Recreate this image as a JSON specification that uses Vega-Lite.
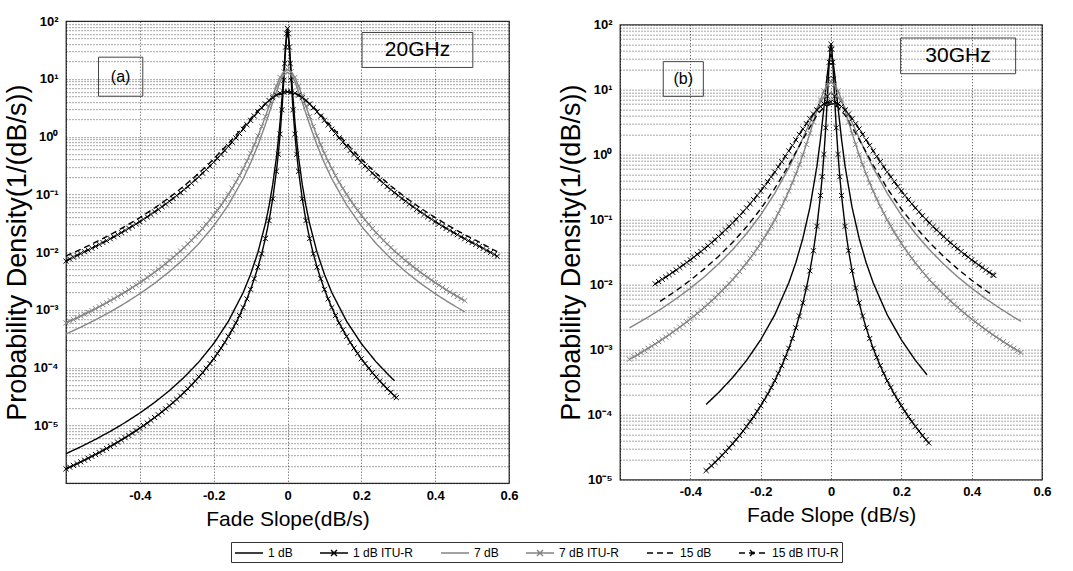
{
"$schema":"https://vega.github.io/schema/vega-lite/v6.json",
"padding":{"left":2,"top":14,"right":5,"bottom":3},
"background":"white",
"config":{"font":"Liberation Sans","view":{"stroke":"#333","strokeWidth":1.3},
 "axis":{"domain":false,"ticks":false,"tickSize":0,"grid":true,"gridColor":"#000","gridDash":[1,2],"gridWidth":1,"gridOpacity":0.7,
  "labelFont":"Liberation Sans","labelFontWeight":"bold","labelFontSize":13,"labelColor":"#000",
  "titleFont":"Liberation Sans","titleFontSize":21,"titleFontWeight":"normal","titleColor":"#000"}},
"datasets":{"curves":[
{"panel":"a","series":"1 dB","x":-0.6,"y":3.24e-6},{"panel":"a","series":"1 dB","x":-0.56,"y":4.27e-6},{"panel":"a","series":"1 dB","x":-0.52,"y":5.74e-6},{"panel":"a","series":"1 dB","x":-0.48,"y":7.91e-6},{"panel":"a","series":"1 dB","x":-0.44,"y":1.12e-5},{"panel":"a","series":"1 dB","x":-0.4,"y":1.64e-5},{"panel":"a","series":"1 dB","x":-0.36,"y":2.5e-5},{"panel":"a","series":"1 dB","x":-0.32,"y":4.0e-5},{"panel":"a","series":"1 dB","x":-0.28,"y":6.82e-5},{"panel":"a","series":"1 dB","x":-0.24,"y":1.26e-4},{"panel":"a","series":"1 dB","x":-0.2,"y":2.61e-4},{"panel":"a","series":"1 dB","x":-0.16,"y":6.37e-4},{"panel":"a","series":"1 dB","x":-0.12,"y":2.0e-3},{"panel":"a","series":"1 dB","x":-0.1,"y":4.14e-3},{"panel":"a","series":"1 dB","x":-0.08,"y":0.01},{"panel":"a","series":"1 dB","x":-0.06,"y":0.031},{"panel":"a","series":"1 dB","x":-0.05,"y":0.0632},{"panel":"a","series":"1 dB","x":-0.04,"y":0.149},{"panel":"a","series":"1 dB","x":-0.03,"y":0.439},{"panel":"a","series":"1 dB","x":-0.025,"y":0.848},{"panel":"a","series":"1 dB","x":-0.02,"y":1.83},{"panel":"a","series":"1 dB","x":-0.015,"y":4.56},{"panel":"a","series":"1 dB","x":-0.01,"y":13.2},{"panel":"a","series":"1 dB","x":-0.005,"y":39.1},{"panel":"a","series":"1 dB","x":0,"y":68},{"panel":"a","series":"1 dB","x":0.005,"y":39.1},{"panel":"a","series":"1 dB","x":0.01,"y":13.2},{"panel":"a","series":"1 dB","x":0.015,"y":4.56},{"panel":"a","series":"1 dB","x":0.02,"y":1.83},{"panel":"a","series":"1 dB","x":0.025,"y":0.848},{"panel":"a","series":"1 dB","x":0.03,"y":0.439},{"panel":"a","series":"1 dB","x":0.04,"y":0.149},{"panel":"a","series":"1 dB","x":0.05,"y":0.0632},{"panel":"a","series":"1 dB","x":0.06,"y":0.031},{"panel":"a","series":"1 dB","x":0.08,"y":0.01},{"panel":"a","series":"1 dB","x":0.1,"y":4.14e-3},{"panel":"a","series":"1 dB","x":0.12,"y":2.0e-3},{"panel":"a","series":"1 dB","x":0.16,"y":6.37e-4},{"panel":"a","series":"1 dB","x":0.2,"y":2.61e-4},{"panel":"a","series":"1 dB","x":0.24,"y":1.26e-4},{"panel":"a","series":"1 dB","x":0.28,"y":6.82e-5},{"panel":"a","series":"1 dB","x":0.29,"y":5.93e-5},
{"panel":"a","series":"1 dB ITU-R","x":-0.6,"y":1.77e-6},{"panel":"a","series":"1 dB ITU-R","x":-0.58,"y":2.03e-6},{"panel":"a","series":"1 dB ITU-R","x":-0.56,"y":2.34e-6},{"panel":"a","series":"1 dB ITU-R","x":-0.54,"y":2.7e-6},{"panel":"a","series":"1 dB ITU-R","x":-0.52,"y":3.14e-6},{"panel":"a","series":"1 dB ITU-R","x":-0.5,"y":3.68e-6},{"panel":"a","series":"1 dB ITU-R","x":-0.48,"y":4.33e-6},{"panel":"a","series":"1 dB ITU-R","x":-0.46,"y":5.13e-6},{"panel":"a","series":"1 dB ITU-R","x":-0.44,"y":6.13e-6},{"panel":"a","series":"1 dB ITU-R","x":-0.42,"y":7.38e-6},{"panel":"a","series":"1 dB ITU-R","x":-0.4,"y":8.97e-6},{"panel":"a","series":"1 dB ITU-R","x":-0.38,"y":1.1e-5},{"panel":"a","series":"1 dB ITU-R","x":-0.36,"y":1.37e-5},{"panel":"a","series":"1 dB ITU-R","x":-0.34,"y":1.72e-5},{"panel":"a","series":"1 dB ITU-R","x":-0.32,"y":2.19e-5},{"panel":"a","series":"1 dB ITU-R","x":-0.3,"y":2.83e-5},{"panel":"a","series":"1 dB ITU-R","x":-0.28,"y":3.73e-5},{"panel":"a","series":"1 dB ITU-R","x":-0.26,"y":5.02e-5},{"panel":"a","series":"1 dB ITU-R","x":-0.24,"y":6.91e-5},{"panel":"a","series":"1 dB ITU-R","x":-0.22,"y":9.79e-5},{"panel":"a","series":"1 dB ITU-R","x":-0.2,"y":1.43e-4},{"panel":"a","series":"1 dB ITU-R","x":-0.18,"y":2.18e-4},{"panel":"a","series":"1 dB ITU-R","x":-0.16,"y":3.49e-4},{"panel":"a","series":"1 dB ITU-R","x":-0.14,"y":5.95e-4},{"panel":"a","series":"1 dB ITU-R","x":-0.12,"y":1.1e-3},{"panel":"a","series":"1 dB ITU-R","x":-0.1,"y":2.27e-3},{"panel":"a","series":"1 dB ITU-R","x":-0.08,"y":5.52e-3},{"panel":"a","series":"1 dB ITU-R","x":-0.06,"y":0.0172},{"panel":"a","series":"1 dB ITU-R","x":-0.05,"y":0.0352},{"panel":"a","series":"1 dB ITU-R","x":-0.04,"y":0.0839},{"panel":"a","series":"1 dB ITU-R","x":-0.03,"y":0.252},{"panel":"a","series":"1 dB ITU-R","x":-0.025,"y":0.496},{"panel":"a","series":"1 dB ITU-R","x":-0.02,"y":1.11},{"panel":"a","series":"1 dB ITU-R","x":-0.015,"y":2.92},{"panel":"a","series":"1 dB ITU-R","x":-0.01,"y":9.52},{"panel":"a","series":"1 dB ITU-R","x":-0.0075,"y":18.5},{"panel":"a","series":"1 dB ITU-R","x":-0.005,"y":35.6},{"panel":"a","series":"1 dB ITU-R","x":-0.0025,"y":60.6},{"panel":"a","series":"1 dB ITU-R","x":0,"y":75},{"panel":"a","series":"1 dB ITU-R","x":0.0025,"y":60.6},{"panel":"a","series":"1 dB ITU-R","x":0.005,"y":35.6},{"panel":"a","series":"1 dB ITU-R","x":0.0075,"y":18.5},{"panel":"a","series":"1 dB ITU-R","x":0.01,"y":9.52},{"panel":"a","series":"1 dB ITU-R","x":0.015,"y":2.92},{"panel":"a","series":"1 dB ITU-R","x":0.02,"y":1.11},{"panel":"a","series":"1 dB ITU-R","x":0.025,"y":0.496},{"panel":"a","series":"1 dB ITU-R","x":0.03,"y":0.252},{"panel":"a","series":"1 dB ITU-R","x":0.04,"y":0.0839},{"panel":"a","series":"1 dB ITU-R","x":0.05,"y":0.0352},{"panel":"a","series":"1 dB ITU-R","x":0.06,"y":0.0172},{"panel":"a","series":"1 dB ITU-R","x":0.08,"y":5.52e-3},{"panel":"a","series":"1 dB ITU-R","x":0.1,"y":2.27e-3},{"panel":"a","series":"1 dB ITU-R","x":0.12,"y":1.1e-3},{"panel":"a","series":"1 dB ITU-R","x":0.14,"y":5.95e-4},{"panel":"a","series":"1 dB ITU-R","x":0.16,"y":3.49e-4},{"panel":"a","series":"1 dB ITU-R","x":0.18,"y":2.18e-4},{"panel":"a","series":"1 dB ITU-R","x":0.2,"y":1.43e-4},{"panel":"a","series":"1 dB ITU-R","x":0.22,"y":9.79e-5},{"panel":"a","series":"1 dB ITU-R","x":0.24,"y":6.91e-5},{"panel":"a","series":"1 dB ITU-R","x":0.26,"y":5.02e-5},{"panel":"a","series":"1 dB ITU-R","x":0.28,"y":3.73e-5},{"panel":"a","series":"1 dB ITU-R","x":0.295,"y":3.03e-5},
{"panel":"a","series":"1 dB ITU-R","x":-0.59,"y":1.896e-6},{"panel":"a","series":"1 dB ITU-R","x":-0.57,"y":2.176e-6},{"panel":"a","series":"1 dB ITU-R","x":-0.55,"y":2.51e-6},{"panel":"a","series":"1 dB ITU-R","x":-0.53,"y":2.911e-6},{"panel":"a","series":"1 dB ITU-R","x":-0.51,"y":3.395e-6},{"panel":"a","series":"1 dB ITU-R","x":-0.49,"y":3.984e-6},{"panel":"a","series":"1 dB ITU-R","x":-0.47,"y":4.707e-6},{"panel":"a","series":"1 dB ITU-R","x":-0.45,"y":5.601e-6},{"panel":"a","series":"1 dB ITU-R","x":-0.43,"y":6.718e-6},{"panel":"a","series":"1 dB ITU-R","x":-0.41,"y":8.127e-6},{"panel":"a","series":"1 dB ITU-R","x":-0.39,"y":9.926e-6},{"panel":"a","series":"1 dB ITU-R","x":-0.37,"y":1.225e-5},{"panel":"a","series":"1 dB ITU-R","x":-0.35,"y":1.53e-5},{"panel":"a","series":"1 dB ITU-R","x":-0.33,"y":1.936e-5},{"panel":"a","series":"1 dB ITU-R","x":-0.31,"y":2.485e-5},{"panel":"a","series":"1 dB ITU-R","x":-0.29,"y":3.245e-5},{"panel":"a","series":"1 dB ITU-R","x":-0.27,"y":4.318e-5},{"panel":"a","series":"1 dB ITU-R","x":-0.25,"y":5.872e-5},{"panel":"a","series":"1 dB ITU-R","x":-0.23,"y":8.195e-5},{"panel":"a","series":"1 dB ITU-R","x":-0.21,"y":1.179e-4},{"panel":"a","series":"1 dB ITU-R","x":-0.19,"y":1.758e-4},{"panel":"a","series":"1 dB ITU-R","x":-0.17,"y":2.741e-4},{"panel":"a","series":"1 dB ITU-R","x":-0.15,"y":4.517e-4},{"panel":"a","series":"1 dB ITU-R","x":-0.13,"y":7.993e-4},{"panel":"a","series":"1 dB ITU-R","x":-0.11,"y":1.555e-3},{"panel":"a","series":"1 dB ITU-R","x":-0.09,"y":3.455e-3},{"panel":"a","series":"1 dB ITU-R","x":-0.07,"y":9.358e-3},{"panel":"a","series":"1 dB ITU-R","x":0.07,"y":9.358e-3},{"panel":"a","series":"1 dB ITU-R","x":0.09,"y":3.455e-3},{"panel":"a","series":"1 dB ITU-R","x":0.11,"y":1.555e-3},{"panel":"a","series":"1 dB ITU-R","x":0.13,"y":7.993e-4},{"panel":"a","series":"1 dB ITU-R","x":0.15,"y":4.517e-4},{"panel":"a","series":"1 dB ITU-R","x":0.17,"y":2.741e-4},{"panel":"a","series":"1 dB ITU-R","x":0.19,"y":1.758e-4},{"panel":"a","series":"1 dB ITU-R","x":0.21,"y":1.179e-4},{"panel":"a","series":"1 dB ITU-R","x":0.23,"y":8.195e-5},{"panel":"a","series":"1 dB ITU-R","x":0.25,"y":5.872e-5},{"panel":"a","series":"1 dB ITU-R","x":0.27,"y":4.318e-5},{"panel":"a","series":"1 dB ITU-R","x":0.29,"y":3.245e-5},
{"panel":"a","series":"7 dB","x":-0.6,"y":3.82e-4},{"panel":"a","series":"7 dB","x":-0.56,"y":5.03e-4},{"panel":"a","series":"7 dB","x":-0.52,"y":6.75e-4},{"panel":"a","series":"7 dB","x":-0.48,"y":9.27e-4},{"panel":"a","series":"7 dB","x":-0.44,"y":1.31e-3},{"panel":"a","series":"7 dB","x":-0.4,"y":1.91e-3},{"panel":"a","series":"7 dB","x":-0.36,"y":2.89e-3},{"panel":"a","series":"7 dB","x":-0.32,"y":4.6e-3},{"panel":"a","series":"7 dB","x":-0.28,"y":7.75e-3},{"panel":"a","series":"7 dB","x":-0.24,"y":0.0141},{"panel":"a","series":"7 dB","x":-0.2,"y":0.0284},{"panel":"a","series":"7 dB","x":-0.16,"y":0.0659},{"panel":"a","series":"7 dB","x":-0.12,"y":0.187},{"panel":"a","series":"7 dB","x":-0.1,"y":0.35},{"panel":"a","series":"7 dB","x":-0.08,"y":0.716},{"panel":"a","series":"7 dB","x":-0.06,"y":1.62},{"panel":"a","series":"7 dB","x":-0.04,"y":3.95},{"panel":"a","series":"7 dB","x":-0.02,"y":8.99},{"panel":"a","series":"7 dB","x":-0.01,"y":11.8},{"panel":"a","series":"7 dB","x":0,"y":13},{"panel":"a","series":"7 dB","x":0.01,"y":11.8},{"panel":"a","series":"7 dB","x":0.02,"y":8.99},{"panel":"a","series":"7 dB","x":0.04,"y":3.95},{"panel":"a","series":"7 dB","x":0.06,"y":1.62},{"panel":"a","series":"7 dB","x":0.08,"y":0.716},{"panel":"a","series":"7 dB","x":0.1,"y":0.35},{"panel":"a","series":"7 dB","x":0.12,"y":0.187},{"panel":"a","series":"7 dB","x":0.16,"y":0.0659},{"panel":"a","series":"7 dB","x":0.2,"y":0.0284},{"panel":"a","series":"7 dB","x":0.24,"y":0.0141},{"panel":"a","series":"7 dB","x":0.28,"y":7.75e-3},{"panel":"a","series":"7 dB","x":0.32,"y":4.6e-3},{"panel":"a","series":"7 dB","x":0.36,"y":2.89e-3},{"panel":"a","series":"7 dB","x":0.4,"y":1.91e-3},{"panel":"a","series":"7 dB","x":0.44,"y":1.31e-3},{"panel":"a","series":"7 dB","x":0.48,"y":9.27e-4},
{"panel":"a","series":"7 dB ITU-R","x":-0.6,"y":5.96e-4},{"panel":"a","series":"7 dB ITU-R","x":-0.58,"y":6.82e-4},{"panel":"a","series":"7 dB ITU-R","x":-0.56,"y":7.84e-4},{"panel":"a","series":"7 dB ITU-R","x":-0.54,"y":9.06e-4},{"panel":"a","series":"7 dB ITU-R","x":-0.52,"y":1.05e-3},{"panel":"a","series":"7 dB ITU-R","x":-0.5,"y":1.23e-3},{"panel":"a","series":"7 dB ITU-R","x":-0.48,"y":1.45e-3},{"panel":"a","series":"7 dB ITU-R","x":-0.46,"y":1.71e-3},{"panel":"a","series":"7 dB ITU-R","x":-0.44,"y":2.04e-3},{"panel":"a","series":"7 dB ITU-R","x":-0.42,"y":2.45e-3},{"panel":"a","series":"7 dB ITU-R","x":-0.4,"y":2.97e-3},{"panel":"a","series":"7 dB ITU-R","x":-0.38,"y":3.64e-3},{"panel":"a","series":"7 dB ITU-R","x":-0.36,"y":4.5e-3},{"panel":"a","series":"7 dB ITU-R","x":-0.34,"y":5.63e-3},{"panel":"a","series":"7 dB ITU-R","x":-0.32,"y":7.14e-3},{"panel":"a","series":"7 dB ITU-R","x":-0.3,"y":9.19e-3},{"panel":"a","series":"7 dB ITU-R","x":-0.28,"y":0.012},{"panel":"a","series":"7 dB ITU-R","x":-0.26,"y":0.016},{"panel":"a","series":"7 dB ITU-R","x":-0.24,"y":0.0218},{"panel":"a","series":"7 dB ITU-R","x":-0.22,"y":0.0305},{"panel":"a","series":"7 dB ITU-R","x":-0.2,"y":0.0437},{"panel":"a","series":"7 dB ITU-R","x":-0.18,"y":0.065},{"panel":"a","series":"7 dB ITU-R","x":-0.16,"y":0.1005},{"panel":"a","series":"7 dB ITU-R","x":-0.14,"y":0.163},{"panel":"a","series":"7 dB ITU-R","x":-0.12,"y":0.28},{"panel":"a","series":"7 dB ITU-R","x":-0.1,"y":0.516},{"panel":"a","series":"7 dB ITU-R","x":-0.08,"y":1.03},{"panel":"a","series":"7 dB ITU-R","x":-0.06,"y":2.23},{"panel":"a","series":"7 dB ITU-R","x":-0.04,"y":5.09},{"panel":"a","series":"7 dB ITU-R","x":-0.03,"y":7.53},{"panel":"a","series":"7 dB ITU-R","x":-0.02,"y":10.6},{"panel":"a","series":"7 dB ITU-R","x":-0.01,"y":13.3},{"panel":"a","series":"7 dB ITU-R","x":0,"y":14.5},{"panel":"a","series":"7 dB ITU-R","x":0.01,"y":13.3},{"panel":"a","series":"7 dB ITU-R","x":0.02,"y":10.6},{"panel":"a","series":"7 dB ITU-R","x":0.03,"y":7.53},{"panel":"a","series":"7 dB ITU-R","x":0.04,"y":5.09},{"panel":"a","series":"7 dB ITU-R","x":0.06,"y":2.23},{"panel":"a","series":"7 dB ITU-R","x":0.08,"y":1.03},{"panel":"a","series":"7 dB ITU-R","x":0.1,"y":0.516},{"panel":"a","series":"7 dB ITU-R","x":0.12,"y":0.28},{"panel":"a","series":"7 dB ITU-R","x":0.14,"y":0.163},{"panel":"a","series":"7 dB ITU-R","x":0.16,"y":0.1005},{"panel":"a","series":"7 dB ITU-R","x":0.18,"y":0.065},{"panel":"a","series":"7 dB ITU-R","x":0.2,"y":0.0437},{"panel":"a","series":"7 dB ITU-R","x":0.22,"y":0.0305},{"panel":"a","series":"7 dB ITU-R","x":0.24,"y":0.0218},{"panel":"a","series":"7 dB ITU-R","x":0.26,"y":0.016},{"panel":"a","series":"7 dB ITU-R","x":0.28,"y":0.012},{"panel":"a","series":"7 dB ITU-R","x":0.3,"y":9.19e-3},{"panel":"a","series":"7 dB ITU-R","x":0.32,"y":7.14e-3},{"panel":"a","series":"7 dB ITU-R","x":0.34,"y":5.63e-3},{"panel":"a","series":"7 dB ITU-R","x":0.36,"y":4.5e-3},{"panel":"a","series":"7 dB ITU-R","x":0.38,"y":3.64e-3},{"panel":"a","series":"7 dB ITU-R","x":0.4,"y":2.97e-3},{"panel":"a","series":"7 dB ITU-R","x":0.42,"y":2.45e-3},{"panel":"a","series":"7 dB ITU-R","x":0.44,"y":2.04e-3},{"panel":"a","series":"7 dB ITU-R","x":0.46,"y":1.71e-3},{"panel":"a","series":"7 dB ITU-R","x":0.48,"y":1.45e-3},
{"panel":"a","series":"7 dB ITU-R","x":-0.59,"y":6.37e-4},{"panel":"a","series":"7 dB ITU-R","x":-0.57,"y":7.31e-4},{"panel":"a","series":"7 dB ITU-R","x":-0.55,"y":8.42e-4},{"panel":"a","series":"7 dB ITU-R","x":-0.53,"y":9.76e-4},{"panel":"a","series":"7 dB ITU-R","x":-0.51,"y":1.136e-3},{"panel":"a","series":"7 dB ITU-R","x":-0.49,"y":1.332e-3},{"panel":"a","series":"7 dB ITU-R","x":-0.47,"y":1.571e-3},{"panel":"a","series":"7 dB ITU-R","x":-0.45,"y":1.865e-3},{"panel":"a","series":"7 dB ITU-R","x":-0.43,"y":2.233e-3},{"panel":"a","series":"7 dB ITU-R","x":-0.41,"y":2.695e-3},{"panel":"a","series":"7 dB ITU-R","x":-0.39,"y":3.282e-3},{"panel":"a","series":"7 dB ITU-R","x":-0.37,"y":4.038e-3},{"panel":"a","series":"7 dB ITU-R","x":-0.35,"y":5.023e-3},{"panel":"a","series":"7 dB ITU-R","x":-0.33,"y":6.326e-3},{"panel":"a","series":"7 dB ITU-R","x":-0.31,"y":8.079e-3},{"panel":"a","series":"7 dB ITU-R","x":-0.29,"y":0.01048},{"panel":"a","series":"7 dB ITU-R","x":-0.27,"y":0.01383},{"panel":"a","series":"7 dB ITU-R","x":-0.25,"y":0.01862},{"panel":"a","series":"7 dB ITU-R","x":-0.23,"y":0.02566},{"panel":"a","series":"7 dB ITU-R","x":-0.21,"y":0.03631},{"panel":"a","series":"7 dB ITU-R","x":-0.19,"y":0.05301},{"panel":"a","series":"7 dB ITU-R","x":-0.17,"y":0.08028},{"panel":"a","series":"7 dB ITU-R","x":-0.15,"y":0.127},{"panel":"a","series":"7 dB ITU-R","x":-0.13,"y":0.2118},{"panel":"a","series":"7 dB ITU-R","x":-0.11,"y":0.3762},{"panel":"a","series":"7 dB ITU-R","x":-0.09,"y":0.7204},{"panel":"a","series":"7 dB ITU-R","x":-0.07,"y":1.5},{"panel":"a","series":"7 dB ITU-R","x":-0.05,"y":3.364},{"panel":"a","series":"7 dB ITU-R","x":0.05,"y":3.364},{"panel":"a","series":"7 dB ITU-R","x":0.07,"y":1.5},{"panel":"a","series":"7 dB ITU-R","x":0.09,"y":0.7204},{"panel":"a","series":"7 dB ITU-R","x":0.11,"y":0.3762},{"panel":"a","series":"7 dB ITU-R","x":0.13,"y":0.2118},{"panel":"a","series":"7 dB ITU-R","x":0.15,"y":0.127},{"panel":"a","series":"7 dB ITU-R","x":0.17,"y":0.08028},{"panel":"a","series":"7 dB ITU-R","x":0.19,"y":0.05301},{"panel":"a","series":"7 dB ITU-R","x":0.21,"y":0.03631},{"panel":"a","series":"7 dB ITU-R","x":0.23,"y":0.02566},{"panel":"a","series":"7 dB ITU-R","x":0.25,"y":0.01862},{"panel":"a","series":"7 dB ITU-R","x":0.27,"y":0.01383},{"panel":"a","series":"7 dB ITU-R","x":0.29,"y":0.01048},{"panel":"a","series":"7 dB ITU-R","x":0.31,"y":8.079e-3},{"panel":"a","series":"7 dB ITU-R","x":0.33,"y":6.326e-3},{"panel":"a","series":"7 dB ITU-R","x":0.35,"y":5.023e-3},{"panel":"a","series":"7 dB ITU-R","x":0.37,"y":4.038e-3},{"panel":"a","series":"7 dB ITU-R","x":0.39,"y":3.282e-3},{"panel":"a","series":"7 dB ITU-R","x":0.41,"y":2.695e-3},{"panel":"a","series":"7 dB ITU-R","x":0.43,"y":2.233e-3},{"panel":"a","series":"7 dB ITU-R","x":0.45,"y":1.865e-3},{"panel":"a","series":"7 dB ITU-R","x":0.47,"y":1.571e-3},
{"panel":"a","series":"15 dB","x":-0.6,"y":0.0086},{"panel":"a","series":"15 dB","x":-0.56,"y":0.0112},{"panel":"a","series":"15 dB","x":-0.52,"y":0.0149},{"panel":"a","series":"15 dB","x":-0.48,"y":0.0201},{"panel":"a","series":"15 dB","x":-0.44,"y":0.0279},{"panel":"a","series":"15 dB","x":-0.4,"y":0.0397},{"panel":"a","series":"15 dB","x":-0.36,"y":0.0582},{"panel":"a","series":"15 dB","x":-0.32,"y":0.0885},{"panel":"a","series":"15 dB","x":-0.28,"y":0.14},{"panel":"a","series":"15 dB","x":-0.24,"y":0.233},{"panel":"a","series":"15 dB","x":-0.2,"y":0.41},{"panel":"a","series":"15 dB","x":-0.16,"y":0.76},{"panel":"a","series":"15 dB","x":-0.12,"y":1.47},{"panel":"a","series":"15 dB","x":-0.08,"y":2.84},{"panel":"a","series":"15 dB","x":-0.04,"y":4.84},{"panel":"a","series":"15 dB","x":0,"y":6.0},{"panel":"a","series":"15 dB","x":0.04,"y":4.84},{"panel":"a","series":"15 dB","x":0.08,"y":2.84},{"panel":"a","series":"15 dB","x":0.12,"y":1.47},{"panel":"a","series":"15 dB","x":0.16,"y":0.76},{"panel":"a","series":"15 dB","x":0.2,"y":0.41},{"panel":"a","series":"15 dB","x":0.24,"y":0.233},{"panel":"a","series":"15 dB","x":0.28,"y":0.14},{"panel":"a","series":"15 dB","x":0.32,"y":0.0885},{"panel":"a","series":"15 dB","x":0.36,"y":0.0582},{"panel":"a","series":"15 dB","x":0.4,"y":0.0397},{"panel":"a","series":"15 dB","x":0.44,"y":0.0279},{"panel":"a","series":"15 dB","x":0.48,"y":0.0201},{"panel":"a","series":"15 dB","x":0.52,"y":0.0149},{"panel":"a","series":"15 dB","x":0.56,"y":0.0108},{"panel":"a","series":"15 dB","x":0.568,"y":0.0102},
{"panel":"a","series":"15 dB ITU-R","x":-0.6,"y":0.007},{"panel":"a","series":"15 dB ITU-R","x":-0.58,"y":0.0082},{"panel":"a","series":"15 dB ITU-R","x":-0.56,"y":0.0095},{"panel":"a","series":"15 dB ITU-R","x":-0.54,"y":0.0109},{"panel":"a","series":"15 dB ITU-R","x":-0.52,"y":0.0126},{"panel":"a","series":"15 dB ITU-R","x":-0.5,"y":0.0147},{"panel":"a","series":"15 dB ITU-R","x":-0.48,"y":0.0171},{"panel":"a","series":"15 dB ITU-R","x":-0.46,"y":0.0201},{"panel":"a","series":"15 dB ITU-R","x":-0.44,"y":0.0238},{"panel":"a","series":"15 dB ITU-R","x":-0.42,"y":0.0283},{"panel":"a","series":"15 dB ITU-R","x":-0.4,"y":0.0339},{"panel":"a","series":"15 dB ITU-R","x":-0.38,"y":0.0409},{"panel":"a","series":"15 dB ITU-R","x":-0.36,"y":0.0499},{"panel":"a","series":"15 dB ITU-R","x":-0.34,"y":0.0613},{"panel":"a","series":"15 dB ITU-R","x":-0.32,"y":0.0761},{"panel":"a","series":"15 dB ITU-R","x":-0.3,"y":0.0956},{"panel":"a","series":"15 dB ITU-R","x":-0.28,"y":0.121},{"panel":"a","series":"15 dB ITU-R","x":-0.26,"y":0.156},{"panel":"a","series":"15 dB ITU-R","x":-0.24,"y":0.203},{"panel":"a","series":"15 dB ITU-R","x":-0.22,"y":0.269},{"panel":"a","series":"15 dB ITU-R","x":-0.2,"y":0.361},{"panel":"a","series":"15 dB ITU-R","x":-0.18,"y":0.492},{"panel":"a","series":"15 dB ITU-R","x":-0.16,"y":0.681},{"panel":"a","series":"15 dB ITU-R","x":-0.14,"y":0.954},{"panel":"a","series":"15 dB ITU-R","x":-0.12,"y":1.35},{"panel":"a","series":"15 dB ITU-R","x":-0.1,"y":1.92},{"panel":"a","series":"15 dB ITU-R","x":-0.08,"y":2.69},{"panel":"a","series":"15 dB ITU-R","x":-0.06,"y":3.68},{"panel":"a","series":"15 dB ITU-R","x":-0.04,"y":4.76},{"panel":"a","series":"15 dB ITU-R","x":-0.02,"y":5.65},{"panel":"a","series":"15 dB ITU-R","x":0,"y":6.0},{"panel":"a","series":"15 dB ITU-R","x":0.02,"y":5.65},{"panel":"a","series":"15 dB ITU-R","x":0.04,"y":4.76},{"panel":"a","series":"15 dB ITU-R","x":0.06,"y":3.68},{"panel":"a","series":"15 dB ITU-R","x":0.08,"y":2.69},{"panel":"a","series":"15 dB ITU-R","x":0.1,"y":1.92},{"panel":"a","series":"15 dB ITU-R","x":0.12,"y":1.35},{"panel":"a","series":"15 dB ITU-R","x":0.14,"y":0.954},{"panel":"a","series":"15 dB ITU-R","x":0.16,"y":0.681},{"panel":"a","series":"15 dB ITU-R","x":0.18,"y":0.492},{"panel":"a","series":"15 dB ITU-R","x":0.2,"y":0.361},{"panel":"a","series":"15 dB ITU-R","x":0.22,"y":0.269},{"panel":"a","series":"15 dB ITU-R","x":0.24,"y":0.203},{"panel":"a","series":"15 dB ITU-R","x":0.26,"y":0.156},{"panel":"a","series":"15 dB ITU-R","x":0.28,"y":0.121},{"panel":"a","series":"15 dB ITU-R","x":0.3,"y":0.0956},{"panel":"a","series":"15 dB ITU-R","x":0.32,"y":0.0761},{"panel":"a","series":"15 dB ITU-R","x":0.34,"y":0.0613},{"panel":"a","series":"15 dB ITU-R","x":0.36,"y":0.0499},{"panel":"a","series":"15 dB ITU-R","x":0.38,"y":0.0409},{"panel":"a","series":"15 dB ITU-R","x":0.4,"y":0.0339},{"panel":"a","series":"15 dB ITU-R","x":0.42,"y":0.0283},{"panel":"a","series":"15 dB ITU-R","x":0.44,"y":0.0238},{"panel":"a","series":"15 dB ITU-R","x":0.46,"y":0.0201},{"panel":"a","series":"15 dB ITU-R","x":0.48,"y":0.0171},{"panel":"a","series":"15 dB ITU-R","x":0.5,"y":0.0147},{"panel":"a","series":"15 dB ITU-R","x":0.52,"y":0.0126},{"panel":"a","series":"15 dB ITU-R","x":0.54,"y":0.0107},{"panel":"a","series":"15 dB ITU-R","x":0.56,"y":0.0091},{"panel":"a","series":"15 dB ITU-R","x":0.568,"y":0.0085},
{"panel":"a","series":"15 dB ITU-R","x":-0.59,"y":0.0076},{"panel":"a","series":"15 dB ITU-R","x":-0.57,"y":0.0088},{"panel":"a","series":"15 dB ITU-R","x":-0.55,"y":0.0102},{"panel":"a","series":"15 dB ITU-R","x":-0.53,"y":0.0117},{"panel":"a","series":"15 dB ITU-R","x":-0.51,"y":0.0136},{"panel":"a","series":"15 dB ITU-R","x":-0.49,"y":0.0158},{"panel":"a","series":"15 dB ITU-R","x":-0.47,"y":0.0185},{"panel":"a","series":"15 dB ITU-R","x":-0.45,"y":0.0218},{"panel":"a","series":"15 dB ITU-R","x":-0.43,"y":0.0259},{"panel":"a","series":"15 dB ITU-R","x":-0.41,"y":0.0309},{"panel":"a","series":"15 dB ITU-R","x":-0.39,"y":0.0372},{"panel":"a","series":"15 dB ITU-R","x":-0.37,"y":0.0451},{"panel":"a","series":"15 dB ITU-R","x":-0.35,"y":0.0552},{"panel":"a","series":"15 dB ITU-R","x":-0.33,"y":0.0682},{"panel":"a","series":"15 dB ITU-R","x":-0.31,"y":0.0852},{"panel":"a","series":"15 dB ITU-R","x":-0.29,"y":0.1075},{"panel":"a","series":"15 dB ITU-R","x":-0.27,"y":0.137},{"panel":"a","series":"15 dB ITU-R","x":-0.25,"y":0.178},{"panel":"a","series":"15 dB ITU-R","x":-0.23,"y":0.2335},{"panel":"a","series":"15 dB ITU-R","x":-0.21,"y":0.311},{"panel":"a","series":"15 dB ITU-R","x":-0.19,"y":0.421},{"panel":"a","series":"15 dB ITU-R","x":-0.17,"y":0.578},{"panel":"a","series":"15 dB ITU-R","x":-0.15,"y":0.805},{"panel":"a","series":"15 dB ITU-R","x":-0.13,"y":1.134},{"panel":"a","series":"15 dB ITU-R","x":-0.11,"y":1.609},{"panel":"a","series":"15 dB ITU-R","x":-0.09,"y":2.278},{"panel":"a","series":"15 dB ITU-R","x":-0.07,"y":3.165},{"panel":"a","series":"15 dB ITU-R","x":-0.05,"y":4.221},{"panel":"a","series":"15 dB ITU-R","x":-0.03,"y":5.248},{"panel":"a","series":"15 dB ITU-R","x":-0.01,"y":5.909},{"panel":"a","series":"15 dB ITU-R","x":0.01,"y":5.909},{"panel":"a","series":"15 dB ITU-R","x":0.03,"y":5.248},{"panel":"a","series":"15 dB ITU-R","x":0.05,"y":4.221},{"panel":"a","series":"15 dB ITU-R","x":0.07,"y":3.165},{"panel":"a","series":"15 dB ITU-R","x":0.09,"y":2.278},{"panel":"a","series":"15 dB ITU-R","x":0.11,"y":1.609},{"panel":"a","series":"15 dB ITU-R","x":0.13,"y":1.134},{"panel":"a","series":"15 dB ITU-R","x":0.15,"y":0.805},{"panel":"a","series":"15 dB ITU-R","x":0.17,"y":0.578},{"panel":"a","series":"15 dB ITU-R","x":0.19,"y":0.421},{"panel":"a","series":"15 dB ITU-R","x":0.21,"y":0.311},{"panel":"a","series":"15 dB ITU-R","x":0.23,"y":0.2335},{"panel":"a","series":"15 dB ITU-R","x":0.25,"y":0.178},{"panel":"a","series":"15 dB ITU-R","x":0.27,"y":0.137},{"panel":"a","series":"15 dB ITU-R","x":0.29,"y":0.1075},{"panel":"a","series":"15 dB ITU-R","x":0.31,"y":0.0852},{"panel":"a","series":"15 dB ITU-R","x":0.33,"y":0.0682},{"panel":"a","series":"15 dB ITU-R","x":0.35,"y":0.0552},{"panel":"a","series":"15 dB ITU-R","x":0.37,"y":0.0451},{"panel":"a","series":"15 dB ITU-R","x":0.39,"y":0.0372},{"panel":"a","series":"15 dB ITU-R","x":0.41,"y":0.0309},{"panel":"a","series":"15 dB ITU-R","x":0.43,"y":0.0259},{"panel":"a","series":"15 dB ITU-R","x":0.45,"y":0.0218},{"panel":"a","series":"15 dB ITU-R","x":0.47,"y":0.0185},{"panel":"a","series":"15 dB ITU-R","x":0.49,"y":0.0158},{"panel":"a","series":"15 dB ITU-R","x":0.51,"y":0.0136},{"panel":"a","series":"15 dB ITU-R","x":0.53,"y":0.0116},{"panel":"a","series":"15 dB ITU-R","x":0.55,"y":0.0099},
{"panel":"b","series":"1 dB","x":-0.355,"y":1.44e-4},{"panel":"b","series":"1 dB","x":-0.32,"y":2.18e-4},{"panel":"b","series":"1 dB","x":-0.28,"y":3.71e-4},{"panel":"b","series":"1 dB","x":-0.24,"y":6.85e-4},{"panel":"b","series":"1 dB","x":-0.2,"y":1.42e-3},{"panel":"b","series":"1 dB","x":-0.16,"y":3.43e-3},{"panel":"b","series":"1 dB","x":-0.12,"y":0.0107},{"panel":"b","series":"1 dB","x":-0.1,"y":0.0218},{"panel":"b","series":"1 dB","x":-0.08,"y":0.0518},{"panel":"b","series":"1 dB","x":-0.06,"y":0.154},{"panel":"b","series":"1 dB","x":-0.04,"y":0.666},{"panel":"b","series":"1 dB","x":-0.03,"y":1.72},{"panel":"b","series":"1 dB","x":-0.02,"y":5.33},{"panel":"b","series":"1 dB","x":-0.01,"y":18.1},{"panel":"b","series":"1 dB","x":-0.005,"y":29.1},{"panel":"b","series":"1 dB","x":0,"y":35},{"panel":"b","series":"1 dB","x":0.005,"y":29.1},{"panel":"b","series":"1 dB","x":0.01,"y":18.1},{"panel":"b","series":"1 dB","x":0.02,"y":5.33},{"panel":"b","series":"1 dB","x":0.03,"y":1.72},{"panel":"b","series":"1 dB","x":0.04,"y":0.666},{"panel":"b","series":"1 dB","x":0.06,"y":0.154},{"panel":"b","series":"1 dB","x":0.08,"y":0.0518},{"panel":"b","series":"1 dB","x":0.1,"y":0.0218},{"panel":"b","series":"1 dB","x":0.12,"y":0.0107},{"panel":"b","series":"1 dB","x":0.16,"y":3.43e-3},{"panel":"b","series":"1 dB","x":0.2,"y":1.42e-3},{"panel":"b","series":"1 dB","x":0.24,"y":6.85e-4},{"panel":"b","series":"1 dB","x":0.273,"y":4.1e-4},
{"panel":"b","series":"1 dB ITU-R","x":-0.355,"y":1.38e-5},{"panel":"b","series":"1 dB ITU-R","x":-0.34,"y":1.64e-5},{"panel":"b","series":"1 dB ITU-R","x":-0.32,"y":2.09e-5},{"panel":"b","series":"1 dB ITU-R","x":-0.3,"y":2.71e-5},{"panel":"b","series":"1 dB ITU-R","x":-0.28,"y":3.57e-5},{"panel":"b","series":"1 dB ITU-R","x":-0.26,"y":4.79e-5},{"panel":"b","series":"1 dB ITU-R","x":-0.24,"y":6.6e-5},{"panel":"b","series":"1 dB ITU-R","x":-0.22,"y":9.34e-5},{"panel":"b","series":"1 dB ITU-R","x":-0.2,"y":1.37e-4},{"panel":"b","series":"1 dB ITU-R","x":-0.18,"y":2.08e-4},{"panel":"b","series":"1 dB ITU-R","x":-0.16,"y":3.33e-4},{"panel":"b","series":"1 dB ITU-R","x":-0.14,"y":5.68e-4},{"panel":"b","series":"1 dB ITU-R","x":-0.12,"y":1.05e-3},{"panel":"b","series":"1 dB ITU-R","x":-0.1,"y":2.17e-3},{"panel":"b","series":"1 dB ITU-R","x":-0.08,"y":5.25e-3},{"panel":"b","series":"1 dB ITU-R","x":-0.06,"y":0.0163},{"panel":"b","series":"1 dB ITU-R","x":-0.05,"y":0.0333},{"panel":"b","series":"1 dB ITU-R","x":-0.04,"y":0.0791},{"panel":"b","series":"1 dB ITU-R","x":-0.03,"y":0.235},{"panel":"b","series":"1 dB ITU-R","x":-0.025,"y":0.459},{"panel":"b","series":"1 dB ITU-R","x":-0.02,"y":1.01},{"panel":"b","series":"1 dB ITU-R","x":-0.015,"y":2.59},{"panel":"b","series":"1 dB ITU-R","x":-0.01,"y":7.94},{"panel":"b","series":"1 dB ITU-R","x":-0.0075,"y":14.6},{"panel":"b","series":"1 dB ITU-R","x":-0.005,"y":26.4},{"panel":"b","series":"1 dB ITU-R","x":-0.0025,"y":41.8},{"panel":"b","series":"1 dB ITU-R","x":0,"y":50},{"panel":"b","series":"1 dB ITU-R","x":0.0025,"y":41.8},{"panel":"b","series":"1 dB ITU-R","x":0.005,"y":26.4},{"panel":"b","series":"1 dB ITU-R","x":0.0075,"y":14.6},{"panel":"b","series":"1 dB ITU-R","x":0.01,"y":7.94},{"panel":"b","series":"1 dB ITU-R","x":0.015,"y":2.59},{"panel":"b","series":"1 dB ITU-R","x":0.02,"y":1.01},{"panel":"b","series":"1 dB ITU-R","x":0.025,"y":0.459},{"panel":"b","series":"1 dB ITU-R","x":0.03,"y":0.235},{"panel":"b","series":"1 dB ITU-R","x":0.04,"y":0.0791},{"panel":"b","series":"1 dB ITU-R","x":0.05,"y":0.0333},{"panel":"b","series":"1 dB ITU-R","x":0.06,"y":0.0163},{"panel":"b","series":"1 dB ITU-R","x":0.08,"y":5.25e-3},{"panel":"b","series":"1 dB ITU-R","x":0.1,"y":2.17e-3},{"panel":"b","series":"1 dB ITU-R","x":0.12,"y":1.05e-3},{"panel":"b","series":"1 dB ITU-R","x":0.14,"y":5.68e-4},{"panel":"b","series":"1 dB ITU-R","x":0.16,"y":3.33e-4},{"panel":"b","series":"1 dB ITU-R","x":0.18,"y":2.08e-4},{"panel":"b","series":"1 dB ITU-R","x":0.2,"y":1.37e-4},{"panel":"b","series":"1 dB ITU-R","x":0.22,"y":9.34e-5},{"panel":"b","series":"1 dB ITU-R","x":0.24,"y":6.6e-5},{"panel":"b","series":"1 dB ITU-R","x":0.26,"y":4.79e-5},{"panel":"b","series":"1 dB ITU-R","x":0.278,"y":3.67e-5},
{"panel":"b","series":"1 dB ITU-R","x":-0.33,"y":1.849e-5},{"panel":"b","series":"1 dB ITU-R","x":-0.31,"y":2.373e-5},{"panel":"b","series":"1 dB ITU-R","x":-0.29,"y":3.099e-5},{"panel":"b","series":"1 dB ITU-R","x":-0.27,"y":4.123e-5},{"panel":"b","series":"1 dB ITU-R","x":-0.25,"y":5.607e-5},{"panel":"b","series":"1 dB ITU-R","x":-0.23,"y":7.824e-5},{"panel":"b","series":"1 dB ITU-R","x":-0.21,"y":1.125e-4},{"panel":"b","series":"1 dB ITU-R","x":-0.19,"y":1.678e-4},{"panel":"b","series":"1 dB ITU-R","x":-0.17,"y":2.616e-4},{"panel":"b","series":"1 dB ITU-R","x":-0.15,"y":4.31e-4},{"panel":"b","series":"1 dB ITU-R","x":-0.13,"y":7.625e-4},{"panel":"b","series":"1 dB ITU-R","x":-0.11,"y":1.483e-3},{"panel":"b","series":"1 dB ITU-R","x":-0.09,"y":3.291e-3},{"panel":"b","series":"1 dB ITU-R","x":-0.07,"y":8.9e-3},{"panel":"b","series":"1 dB ITU-R","x":0.07,"y":8.9e-3},{"panel":"b","series":"1 dB ITU-R","x":0.09,"y":3.291e-3},{"panel":"b","series":"1 dB ITU-R","x":0.11,"y":1.483e-3},{"panel":"b","series":"1 dB ITU-R","x":0.13,"y":7.625e-4},{"panel":"b","series":"1 dB ITU-R","x":0.15,"y":4.31e-4},{"panel":"b","series":"1 dB ITU-R","x":0.17,"y":2.616e-4},{"panel":"b","series":"1 dB ITU-R","x":0.19,"y":1.678e-4},{"panel":"b","series":"1 dB ITU-R","x":0.21,"y":1.125e-4},{"panel":"b","series":"1 dB ITU-R","x":0.23,"y":7.824e-5},{"panel":"b","series":"1 dB ITU-R","x":0.25,"y":5.607e-5},{"panel":"b","series":"1 dB ITU-R","x":0.27,"y":4.123e-5},
{"panel":"b","series":"7 dB","x":-0.573,"y":2.16e-3},{"panel":"b","series":"7 dB","x":-0.52,"y":3.17e-3},{"panel":"b","series":"7 dB","x":-0.48,"y":4.34e-3},{"panel":"b","series":"7 dB","x":-0.44,"y":6.09e-3},{"panel":"b","series":"7 dB","x":-0.4,"y":8.82e-3},{"panel":"b","series":"7 dB","x":-0.36,"y":0.0132},{"panel":"b","series":"7 dB","x":-0.32,"y":0.0208},{"panel":"b","series":"7 dB","x":-0.28,"y":0.0344},{"panel":"b","series":"7 dB","x":-0.24,"y":0.0611},{"panel":"b","series":"7 dB","x":-0.2,"y":0.118},{"panel":"b","series":"7 dB","x":-0.16,"y":0.254},{"panel":"b","series":"7 dB","x":-0.12,"y":0.628},{"panel":"b","series":"7 dB","x":-0.1,"y":1.05},{"panel":"b","series":"7 dB","x":-0.08,"y":1.8},{"panel":"b","series":"7 dB","x":-0.06,"y":3.13},{"panel":"b","series":"7 dB","x":-0.04,"y":5.25},{"panel":"b","series":"7 dB","x":-0.02,"y":7.75},{"panel":"b","series":"7 dB","x":0,"y":9.0},{"panel":"b","series":"7 dB","x":0.02,"y":7.75},{"panel":"b","series":"7 dB","x":0.04,"y":5.25},{"panel":"b","series":"7 dB","x":0.06,"y":3.13},{"panel":"b","series":"7 dB","x":0.08,"y":1.8},{"panel":"b","series":"7 dB","x":0.1,"y":1.05},{"panel":"b","series":"7 dB","x":0.12,"y":0.628},{"panel":"b","series":"7 dB","x":0.16,"y":0.254},{"panel":"b","series":"7 dB","x":0.2,"y":0.118},{"panel":"b","series":"7 dB","x":0.24,"y":0.0611},{"panel":"b","series":"7 dB","x":0.28,"y":0.0344},{"panel":"b","series":"7 dB","x":0.32,"y":0.0208},{"panel":"b","series":"7 dB","x":0.36,"y":0.0132},{"panel":"b","series":"7 dB","x":0.4,"y":8.82e-3},{"panel":"b","series":"7 dB","x":0.44,"y":6.09e-3},{"panel":"b","series":"7 dB","x":0.48,"y":4.34e-3},{"panel":"b","series":"7 dB","x":0.52,"y":3.17e-3},{"panel":"b","series":"7 dB","x":0.54,"y":2.73e-3},
{"panel":"b","series":"7 dB ITU-R","x":-0.573,"y":7.13e-4},{"panel":"b","series":"7 dB ITU-R","x":-0.56,"y":7.81e-4},{"panel":"b","series":"7 dB ITU-R","x":-0.54,"y":9.03e-4},{"panel":"b","series":"7 dB ITU-R","x":-0.52,"y":1.05e-3},{"panel":"b","series":"7 dB ITU-R","x":-0.5,"y":1.22e-3},{"panel":"b","series":"7 dB ITU-R","x":-0.48,"y":1.44e-3},{"panel":"b","series":"7 dB ITU-R","x":-0.46,"y":1.7e-3},{"panel":"b","series":"7 dB ITU-R","x":-0.44,"y":2.03e-3},{"panel":"b","series":"7 dB ITU-R","x":-0.42,"y":2.44e-3},{"panel":"b","series":"7 dB ITU-R","x":-0.4,"y":2.96e-3},{"panel":"b","series":"7 dB ITU-R","x":-0.38,"y":3.62e-3},{"panel":"b","series":"7 dB ITU-R","x":-0.36,"y":4.48e-3},{"panel":"b","series":"7 dB ITU-R","x":-0.34,"y":5.6e-3},{"panel":"b","series":"7 dB ITU-R","x":-0.32,"y":7.1e-3},{"panel":"b","series":"7 dB ITU-R","x":-0.3,"y":9.13e-3},{"panel":"b","series":"7 dB ITU-R","x":-0.28,"y":0.0119},{"panel":"b","series":"7 dB ITU-R","x":-0.26,"y":0.0159},{"panel":"b","series":"7 dB ITU-R","x":-0.24,"y":0.0216},{"panel":"b","series":"7 dB ITU-R","x":-0.22,"y":0.0302},{"panel":"b","series":"7 dB ITU-R","x":-0.2,"y":0.0433},{"panel":"b","series":"7 dB ITU-R","x":-0.18,"y":0.0643},{"panel":"b","series":"7 dB ITU-R","x":-0.16,"y":0.0992},{"panel":"b","series":"7 dB ITU-R","x":-0.14,"y":0.161},{"panel":"b","series":"7 dB ITU-R","x":-0.12,"y":0.275},{"panel":"b","series":"7 dB ITU-R","x":-0.1,"y":0.504},{"panel":"b","series":"7 dB ITU-R","x":-0.08,"y":0.997},{"panel":"b","series":"7 dB ITU-R","x":-0.06,"y":2.13},{"panel":"b","series":"7 dB ITU-R","x":-0.04,"y":4.76},{"panel":"b","series":"7 dB ITU-R","x":-0.03,"y":6.96},{"panel":"b","series":"7 dB ITU-R","x":-0.02,"y":9.61},{"panel":"b","series":"7 dB ITU-R","x":-0.01,"y":12.0},{"panel":"b","series":"7 dB ITU-R","x":0,"y":13.0},{"panel":"b","series":"7 dB ITU-R","x":0.01,"y":12.0},{"panel":"b","series":"7 dB ITU-R","x":0.02,"y":9.61},{"panel":"b","series":"7 dB ITU-R","x":0.03,"y":6.96},{"panel":"b","series":"7 dB ITU-R","x":0.04,"y":4.76},{"panel":"b","series":"7 dB ITU-R","x":0.06,"y":2.13},{"panel":"b","series":"7 dB ITU-R","x":0.08,"y":0.997},{"panel":"b","series":"7 dB ITU-R","x":0.1,"y":0.504},{"panel":"b","series":"7 dB ITU-R","x":0.12,"y":0.275},{"panel":"b","series":"7 dB ITU-R","x":0.14,"y":0.161},{"panel":"b","series":"7 dB ITU-R","x":0.16,"y":0.0992},{"panel":"b","series":"7 dB ITU-R","x":0.18,"y":0.0643},{"panel":"b","series":"7 dB ITU-R","x":0.2,"y":0.0433},{"panel":"b","series":"7 dB ITU-R","x":0.22,"y":0.0302},{"panel":"b","series":"7 dB ITU-R","x":0.24,"y":0.0216},{"panel":"b","series":"7 dB ITU-R","x":0.26,"y":0.0159},{"panel":"b","series":"7 dB ITU-R","x":0.28,"y":0.0119},{"panel":"b","series":"7 dB ITU-R","x":0.3,"y":9.13e-3},{"panel":"b","series":"7 dB ITU-R","x":0.32,"y":7.1e-3},{"panel":"b","series":"7 dB ITU-R","x":0.34,"y":5.6e-3},{"panel":"b","series":"7 dB ITU-R","x":0.36,"y":4.48e-3},{"panel":"b","series":"7 dB ITU-R","x":0.38,"y":3.62e-3},{"panel":"b","series":"7 dB ITU-R","x":0.4,"y":2.96e-3},{"panel":"b","series":"7 dB ITU-R","x":0.42,"y":2.44e-3},{"panel":"b","series":"7 dB ITU-R","x":0.44,"y":2.03e-3},{"panel":"b","series":"7 dB ITU-R","x":0.46,"y":1.7e-3},{"panel":"b","series":"7 dB ITU-R","x":0.48,"y":1.44e-3},{"panel":"b","series":"7 dB ITU-R","x":0.5,"y":1.22e-3},{"panel":"b","series":"7 dB ITU-R","x":0.52,"y":1.05e-3},{"panel":"b","series":"7 dB ITU-R","x":0.54,"y":9.03e-4},
{"panel":"b","series":"7 dB ITU-R","x":-0.55,"y":8.39e-4},{"panel":"b","series":"7 dB ITU-R","x":-0.53,"y":9.72e-4},{"panel":"b","series":"7 dB ITU-R","x":-0.51,"y":1.132e-3},{"panel":"b","series":"7 dB ITU-R","x":-0.49,"y":1.327e-3},{"panel":"b","series":"7 dB ITU-R","x":-0.47,"y":1.565e-3},{"panel":"b","series":"7 dB ITU-R","x":-0.45,"y":1.858e-3},{"panel":"b","series":"7 dB ITU-R","x":-0.43,"y":2.224e-3},{"panel":"b","series":"7 dB ITU-R","x":-0.41,"y":2.683e-3},{"panel":"b","series":"7 dB ITU-R","x":-0.39,"y":3.268e-3},{"panel":"b","series":"7 dB ITU-R","x":-0.37,"y":4.019e-3},{"panel":"b","series":"7 dB ITU-R","x":-0.35,"y":4.999e-3},{"panel":"b","series":"7 dB ITU-R","x":-0.33,"y":6.295e-3},{"panel":"b","series":"7 dB ITU-R","x":-0.31,"y":8.036e-3},{"panel":"b","series":"7 dB ITU-R","x":-0.29,"y":0.01042},{"panel":"b","series":"7 dB ITU-R","x":-0.27,"y":0.01375},{"panel":"b","series":"7 dB ITU-R","x":-0.25,"y":0.0185},{"panel":"b","series":"7 dB ITU-R","x":-0.23,"y":0.02548},{"panel":"b","series":"7 dB ITU-R","x":-0.21,"y":0.03602},{"panel":"b","series":"7 dB ITU-R","x":-0.19,"y":0.05252},{"panel":"b","series":"7 dB ITU-R","x":-0.17,"y":0.07941},{"panel":"b","series":"7 dB ITU-R","x":-0.15,"y":0.1254},{"panel":"b","series":"7 dB ITU-R","x":-0.13,"y":0.2085},{"panel":"b","series":"7 dB ITU-R","x":-0.11,"y":0.3687},{"panel":"b","series":"7 dB ITU-R","x":-0.09,"y":0.7012},{"panel":"b","series":"7 dB ITU-R","x":-0.07,"y":1.445},{"panel":"b","series":"7 dB ITU-R","x":-0.05,"y":3.185},{"panel":"b","series":"7 dB ITU-R","x":0.05,"y":3.185},{"panel":"b","series":"7 dB ITU-R","x":0.07,"y":1.445},{"panel":"b","series":"7 dB ITU-R","x":0.09,"y":0.7012},{"panel":"b","series":"7 dB ITU-R","x":0.11,"y":0.3687},{"panel":"b","series":"7 dB ITU-R","x":0.13,"y":0.2085},{"panel":"b","series":"7 dB ITU-R","x":0.15,"y":0.1254},{"panel":"b","series":"7 dB ITU-R","x":0.17,"y":0.07941},{"panel":"b","series":"7 dB ITU-R","x":0.19,"y":0.05252},{"panel":"b","series":"7 dB ITU-R","x":0.21,"y":0.03602},{"panel":"b","series":"7 dB ITU-R","x":0.23,"y":0.02548},{"panel":"b","series":"7 dB ITU-R","x":0.25,"y":0.0185},{"panel":"b","series":"7 dB ITU-R","x":0.27,"y":0.01375},{"panel":"b","series":"7 dB ITU-R","x":0.29,"y":0.01042},{"panel":"b","series":"7 dB ITU-R","x":0.31,"y":8.036e-3},{"panel":"b","series":"7 dB ITU-R","x":0.33,"y":6.295e-3},{"panel":"b","series":"7 dB ITU-R","x":0.35,"y":4.999e-3},{"panel":"b","series":"7 dB ITU-R","x":0.37,"y":4.019e-3},{"panel":"b","series":"7 dB ITU-R","x":0.39,"y":3.268e-3},{"panel":"b","series":"7 dB ITU-R","x":0.41,"y":2.683e-3},{"panel":"b","series":"7 dB ITU-R","x":0.43,"y":2.224e-3},{"panel":"b","series":"7 dB ITU-R","x":0.45,"y":1.858e-3},{"panel":"b","series":"7 dB ITU-R","x":0.47,"y":1.565e-3},{"panel":"b","series":"7 dB ITU-R","x":0.49,"y":1.327e-3},{"panel":"b","series":"7 dB ITU-R","x":0.51,"y":1.132e-3},{"panel":"b","series":"7 dB ITU-R","x":0.53,"y":9.72e-4},
{"panel":"b","series":"15 dB","x":-0.486,"y":5.53e-3},{"panel":"b","series":"15 dB","x":-0.44,"y":8.12e-3},{"panel":"b","series":"15 dB","x":-0.4,"y":0.0117},{"panel":"b","series":"15 dB","x":-0.36,"y":0.0175},{"panel":"b","series":"15 dB","x":-0.32,"y":0.0272},{"panel":"b","series":"15 dB","x":-0.28,"y":0.0446},{"panel":"b","series":"15 dB","x":-0.24,"y":0.0777},{"panel":"b","series":"15 dB","x":-0.2,"y":0.146},{"panel":"b","series":"15 dB","x":-0.16,"y":0.302},{"panel":"b","series":"15 dB","x":-0.12,"y":0.691},{"panel":"b","series":"15 dB","x":-0.08,"y":1.72},{"panel":"b","series":"15 dB","x":-0.04,"y":4.06},{"panel":"b","series":"15 dB","x":-0.02,"y":5.4},{"panel":"b","series":"15 dB","x":0,"y":6.0},{"panel":"b","series":"15 dB","x":0.02,"y":5.4},{"panel":"b","series":"15 dB","x":0.04,"y":4.06},{"panel":"b","series":"15 dB","x":0.08,"y":1.72},{"panel":"b","series":"15 dB","x":0.12,"y":0.691},{"panel":"b","series":"15 dB","x":0.16,"y":0.302},{"panel":"b","series":"15 dB","x":0.2,"y":0.146},{"panel":"b","series":"15 dB","x":0.24,"y":0.0777},{"panel":"b","series":"15 dB","x":0.28,"y":0.0446},{"panel":"b","series":"15 dB","x":0.32,"y":0.0272},{"panel":"b","series":"15 dB","x":0.36,"y":0.0175},{"panel":"b","series":"15 dB","x":0.4,"y":0.0117},{"panel":"b","series":"15 dB","x":0.44,"y":8.12e-3},{"panel":"b","series":"15 dB","x":0.454,"y":7.2e-3},
{"panel":"b","series":"15 dB ITU-R","x":-0.5,"y":0.0103},{"panel":"b","series":"15 dB ITU-R","x":-0.48,"y":0.0121},{"panel":"b","series":"15 dB ITU-R","x":-0.46,"y":0.0142},{"panel":"b","series":"15 dB ITU-R","x":-0.44,"y":0.0168},{"panel":"b","series":"15 dB ITU-R","x":-0.42,"y":0.0201},{"panel":"b","series":"15 dB ITU-R","x":-0.4,"y":0.0241},{"panel":"b","series":"15 dB ITU-R","x":-0.38,"y":0.0293},{"panel":"b","series":"15 dB ITU-R","x":-0.36,"y":0.0358},{"panel":"b","series":"15 dB ITU-R","x":-0.34,"y":0.0442},{"panel":"b","series":"15 dB ITU-R","x":-0.32,"y":0.0551},{"panel":"b","series":"15 dB ITU-R","x":-0.3,"y":0.0696},{"panel":"b","series":"15 dB ITU-R","x":-0.28,"y":0.0889},{"panel":"b","series":"15 dB ITU-R","x":-0.26,"y":0.115},{"panel":"b","series":"15 dB ITU-R","x":-0.24,"y":0.152},{"panel":"b","series":"15 dB ITU-R","x":-0.22,"y":0.203},{"panel":"b","series":"15 dB ITU-R","x":-0.2,"y":0.276},{"panel":"b","series":"15 dB ITU-R","x":-0.18,"y":0.383},{"panel":"b","series":"15 dB ITU-R","x":-0.16,"y":0.541},{"panel":"b","series":"15 dB ITU-R","x":-0.14,"y":0.78},{"panel":"b","series":"15 dB ITU-R","x":-0.12,"y":1.14},{"panel":"b","series":"15 dB ITU-R","x":-0.1,"y":1.69},{"panel":"b","series":"15 dB ITU-R","x":-0.08,"y":2.49},{"panel":"b","series":"15 dB ITU-R","x":-0.06,"y":3.58},{"panel":"b","series":"15 dB ITU-R","x":-0.04,"y":4.88},{"panel":"b","series":"15 dB ITU-R","x":-0.02,"y":6.03},{"panel":"b","series":"15 dB ITU-R","x":0,"y":6.5},{"panel":"b","series":"15 dB ITU-R","x":0.02,"y":6.03},{"panel":"b","series":"15 dB ITU-R","x":0.04,"y":4.88},{"panel":"b","series":"15 dB ITU-R","x":0.06,"y":3.58},{"panel":"b","series":"15 dB ITU-R","x":0.08,"y":2.49},{"panel":"b","series":"15 dB ITU-R","x":0.1,"y":1.69},{"panel":"b","series":"15 dB ITU-R","x":0.12,"y":1.14},{"panel":"b","series":"15 dB ITU-R","x":0.14,"y":0.78},{"panel":"b","series":"15 dB ITU-R","x":0.16,"y":0.541},{"panel":"b","series":"15 dB ITU-R","x":0.18,"y":0.383},{"panel":"b","series":"15 dB ITU-R","x":0.2,"y":0.276},{"panel":"b","series":"15 dB ITU-R","x":0.22,"y":0.203},{"panel":"b","series":"15 dB ITU-R","x":0.24,"y":0.152},{"panel":"b","series":"15 dB ITU-R","x":0.26,"y":0.115},{"panel":"b","series":"15 dB ITU-R","x":0.28,"y":0.0889},{"panel":"b","series":"15 dB ITU-R","x":0.3,"y":0.0696},{"panel":"b","series":"15 dB ITU-R","x":0.32,"y":0.0551},{"panel":"b","series":"15 dB ITU-R","x":0.34,"y":0.0442},{"panel":"b","series":"15 dB ITU-R","x":0.36,"y":0.0358},{"panel":"b","series":"15 dB ITU-R","x":0.38,"y":0.0293},{"panel":"b","series":"15 dB ITU-R","x":0.4,"y":0.0241},{"panel":"b","series":"15 dB ITU-R","x":0.42,"y":0.0201},{"panel":"b","series":"15 dB ITU-R","x":0.44,"y":0.0168},{"panel":"b","series":"15 dB ITU-R","x":0.46,"y":0.0142},{"panel":"b","series":"15 dB ITU-R","x":0.463,"y":0.0139},
{"panel":"b","series":"15 dB ITU-R","x":-0.49,"y":0.01117},{"panel":"b","series":"15 dB ITU-R","x":-0.47,"y":0.0131},{"panel":"b","series":"15 dB ITU-R","x":-0.45,"y":0.01547},{"panel":"b","series":"15 dB ITU-R","x":-0.43,"y":0.01838},{"panel":"b","series":"15 dB ITU-R","x":-0.41,"y":0.022},{"panel":"b","series":"15 dB ITU-R","x":-0.39,"y":0.02655},{"panel":"b","series":"15 dB ITU-R","x":-0.37,"y":0.03231},{"panel":"b","series":"15 dB ITU-R","x":-0.35,"y":0.03969},{"panel":"b","series":"15 dB ITU-R","x":-0.33,"y":0.04926},{"panel":"b","series":"15 dB ITU-R","x":-0.31,"y":0.06181},{"panel":"b","series":"15 dB ITU-R","x":-0.29,"y":0.07851},{"panel":"b","series":"15 dB ITU-R","x":-0.27,"y":0.101},{"panel":"b","series":"15 dB ITU-R","x":-0.25,"y":0.1319},{"panel":"b","series":"15 dB ITU-R","x":-0.23,"y":0.175},{"panel":"b","series":"15 dB ITU-R","x":-0.21,"y":0.2361},{"panel":"b","series":"15 dB ITU-R","x":-0.19,"y":0.3244},{"panel":"b","series":"15 dB ITU-R","x":-0.17,"y":0.4542},{"panel":"b","series":"15 dB ITU-R","x":-0.15,"y":0.6482},{"panel":"b","series":"15 dB ITU-R","x":-0.13,"y":0.9415},{"panel":"b","series":"15 dB ITU-R","x":-0.11,"y":1.3865},{"panel":"b","series":"15 dB ITU-R","x":-0.09,"y":2.051},{"panel":"b","series":"15 dB ITU-R","x":-0.07,"y":3.0},{"panel":"b","series":"15 dB ITU-R","x":-0.05,"y":4.222},{"panel":"b","series":"15 dB ITU-R","x":-0.03,"y":5.505},{"panel":"b","series":"15 dB ITU-R","x":-0.01,"y":6.377},{"panel":"b","series":"15 dB ITU-R","x":0.01,"y":6.377},{"panel":"b","series":"15 dB ITU-R","x":0.03,"y":5.505},{"panel":"b","series":"15 dB ITU-R","x":0.05,"y":4.222},{"panel":"b","series":"15 dB ITU-R","x":0.07,"y":3.0},{"panel":"b","series":"15 dB ITU-R","x":0.09,"y":2.051},{"panel":"b","series":"15 dB ITU-R","x":0.11,"y":1.3865},{"panel":"b","series":"15 dB ITU-R","x":0.13,"y":0.9415},{"panel":"b","series":"15 dB ITU-R","x":0.15,"y":0.6482},{"panel":"b","series":"15 dB ITU-R","x":0.17,"y":0.4542},{"panel":"b","series":"15 dB ITU-R","x":0.19,"y":0.3244},{"panel":"b","series":"15 dB ITU-R","x":0.21,"y":0.2361},{"panel":"b","series":"15 dB ITU-R","x":0.23,"y":0.175},{"panel":"b","series":"15 dB ITU-R","x":0.25,"y":0.1319},{"panel":"b","series":"15 dB ITU-R","x":0.27,"y":0.101},{"panel":"b","series":"15 dB ITU-R","x":0.29,"y":0.07851},{"panel":"b","series":"15 dB ITU-R","x":0.31,"y":0.06181},{"panel":"b","series":"15 dB ITU-R","x":0.33,"y":0.04926},{"panel":"b","series":"15 dB ITU-R","x":0.35,"y":0.03969},{"panel":"b","series":"15 dB ITU-R","x":0.37,"y":0.03231},{"panel":"b","series":"15 dB ITU-R","x":0.39,"y":0.02655},{"panel":"b","series":"15 dB ITU-R","x":0.41,"y":0.022},{"panel":"b","series":"15 dB ITU-R","x":0.43,"y":0.01838},{"panel":"b","series":"15 dB ITU-R","x":0.45,"y":0.01547}
]},
"spacing":37,
"center":true,
"hconcat":[
{"width":443,"height":462,
 "data":{"name":"curves"},
 "encoding":{
  "x":{"field":"x","type":"quantitative","scale":{"domain":[-0.6,0.6],"nice":false,"zero":false},
   "axis":{"values":[-0.6,-0.4,-0.2,0,0.2,0.4,0.6],"labelExpr":"datum.value < -0.5 ? '' : replace(format(datum.value, '.1~f'), '\u2212', '-')","labelPadding":6,"titlePadding":6,"labelFlush":false,"labelOverlap":false,"title":"Fade Slope(dB/s)"}},
  "y":{"field":"y","type":"quantitative","scale":{"type":"log","domain":[0.000001,100],"nice":false},
   "axis":{"values":[0.000001,0.000002,0.000003,0.000004,0.000005,0.000006,0.000007,0.000008,0.000009,0.00001,0.00002,0.00003,0.00004,0.00005,0.00006,0.00007,0.00008,0.00009,0.0001,0.0002,0.0003,0.0004,0.0005,0.0006,0.0007,0.0008,0.0009,0.001,0.002,0.003,0.004,0.005,0.006,0.007,0.008,0.009,0.01,0.02,0.03,0.04,0.05,0.06,0.07,0.08,0.09,0.1,0.2,0.3,0.4,0.5,0.6,0.7,0.8,0.9,1,2,3,4,5,6,7,8,9,10,20,30,40,50,60,70,80,90,100],
    "labelExpr":"datum.value == 100 ? '10²' : datum.value == 10 ? '10¹' : datum.value == 1 ? '10⁰' : datum.value == 0.1 ? '10⁻¹' : datum.value == 0.01 ? '10⁻²' : datum.value == 0.001 ? '10⁻³' : datum.value == 0.0001 ? '10⁻⁴' : datum.value == 0.00001 ? '10⁻⁵' : ''",
    "labelOverlap":false,"labelBound":false,"labelFlush":false,"labelPadding":8,"titlePadding":2,"titleFontSize":27,"title":"Probability Density(1/(dB/s))"}}
 },
 "layer":[
  {"transform":[{"filter":"datum.panel == 'a'"}],
   "mark":{"type":"line","strokeWidth":1.4},
   "encoding":{
    "color":{"field":"series","type":"nominal","scale":{"domain":["1 dB","1 dB ITU-R","7 dB","7 dB ITU-R","15 dB","15 dB ITU-R"],"range":["#000000","#000000","#858585","#858585","#000000","#000000"]},
     "legend":{"title":null,"orient":"none","legendX":165,"legendY":521,"direction":"horizontal","columns":6,"symbolType":{"expr":"indexof(datum.value, 'ITU') >= 0 ? 'M-1,0L3,0M0.57,-0.43L1.43,0.43M0.57,0.43L1.43,-0.43' : 'M-1,0L3,0'"},"symbolSize":196,"symbolStrokeWidth":1.4,"labelFont":"Liberation Sans","labelFontSize":12,"labelColor":"#000","labelOffset":18,"columnPadding":24,"strokeColor":"#333","fillColor":"white","padding":3}},
    "strokeDash":{"field":"series","type":"nominal","scale":{"domain":["1 dB","1 dB ITU-R","7 dB","7 dB ITU-R","15 dB","15 dB ITU-R"],"range":[[1,0],[1,0],[1,0],[1,0],[6,4],[6,4]]},
     "legend":{"title":null,"orient":"none","legendX":165,"legendY":521,"direction":"horizontal","columns":6,"symbolType":{"expr":"indexof(datum.value, 'ITU') >= 0 ? 'M-1,0L3,0M0.57,-0.43L1.43,0.43M0.57,0.43L1.43,-0.43' : 'M-1,0L3,0'"},"symbolSize":196,"symbolStrokeWidth":1.4,"labelFont":"Liberation Sans","labelFontSize":12,"labelColor":"#000","labelOffset":18,"columnPadding":24,"strokeColor":"#333","fillColor":"white","padding":3}}
   }},
  {"transform":[{"filter":"datum.panel == 'a' && indexof(datum.series, 'ITU') >= 0"}],
   "mark":{"type":"point","shape":"M-1,-1L1,1M-1,1L1,-1","size":26,"strokeWidth":1,"filled":false,"opacity":1},
   "encoding":{"color":{"field":"series","type":"nominal","legend":null}}},
  {"transform":[{"filter":"datum.panel == 'a' && datum.series == '1 dB' && datum.x == 0"}],
   "mark":{"type":"rect","fillOpacity":0,"stroke":"#444","strokeWidth":1},
   "encoding":{"x":{"datum":-0.512,"type":"quantitative"},"x2":{"datum":-0.392},"y":{"datum":23.8,"type":"quantitative"},"y2":{"datum":5.02}}},
  {"transform":[{"filter":"datum.panel == 'a' && datum.series == '1 dB' && datum.x == 0"}],
   "mark":{"type":"text","text":"(a)","fontSize":16,"font":"Liberation Sans","color":"#000"},
   "encoding":{"x":{"datum":-0.452,"type":"quantitative"},"y":{"datum":10.9,"type":"quantitative"}}},
  {"transform":[{"filter":"datum.panel == 'a' && datum.series == '1 dB' && datum.x == 0"}],
   "mark":{"type":"rect","fillOpacity":0,"stroke":"#444","strokeWidth":1},
   "encoding":{"x":{"datum":0.202,"type":"quantitative"},"x2":{"datum":0.502},"y":{"datum":63.7,"type":"quantitative"},"y2":{"datum":15.8}}},
  {"transform":[{"filter":"datum.panel == 'a' && datum.series == '1 dB' && datum.x == 0"}],
   "mark":{"type":"text","text":"20GHz","fontSize":21,"font":"Liberation Sans","color":"#000"},
   "encoding":{"x":{"datum":0.352,"type":"quantitative"},"y":{"datum":31.7,"type":"quantitative"}}}
 ]},
{"width":422,"height":455,
 "data":{"name":"curves"},
 "encoding":{
  "x":{"field":"x","type":"quantitative","scale":{"domain":[-0.6,0.6],"nice":false,"zero":false},
   "axis":{"values":[-0.6,-0.4,-0.2,0,0.2,0.4,0.6],"labelExpr":"datum.value < -0.5 ? '' : replace(format(datum.value, '.1~f'), '\u2212', '-')","labelPadding":6,"titlePadding":6,"labelFlush":false,"labelOverlap":false,"title":"Fade Slope (dB/s)"}},
  "y":{"field":"y","type":"quantitative","scale":{"type":"log","domain":[0.00001,100],"nice":false},
   "axis":{"values":[0.00001,0.00002,0.00003,0.00004,0.00005,0.00006,0.00007,0.00008,0.00009,0.0001,0.0002,0.0003,0.0004,0.0005,0.0006,0.0007,0.0008,0.0009,0.001,0.002,0.003,0.004,0.005,0.006,0.007,0.008,0.009,0.01,0.02,0.03,0.04,0.05,0.06,0.07,0.08,0.09,0.1,0.2,0.3,0.4,0.5,0.6,0.7,0.8,0.9,1,2,3,4,5,6,7,8,9,10,20,30,40,50,60,70,80,90,100],
    "labelExpr":"datum.value == 100 ? '10²' : datum.value == 10 ? '10¹' : datum.value == 1 ? '10⁰' : datum.value == 0.1 ? '10⁻¹' : datum.value == 0.01 ? '10⁻²' : datum.value == 0.001 ? '10⁻³' : datum.value == 0.0001 ? '10⁻⁴' : datum.value == 0.00001 ? '10⁻⁵' : ''",
    "labelOverlap":false,"labelBound":false,"labelFlush":false,"labelPadding":8,"titlePadding":2,"titleFontSize":27,"title":"Probability Density(1/(dB/s))"}}
 },
 "layer":[
  {"transform":[{"filter":"datum.panel == 'b'"}],
   "mark":{"type":"line","strokeWidth":1.4},
   "encoding":{
    "color":{"field":"series","type":"nominal","scale":{"domain":["1 dB","1 dB ITU-R","7 dB","7 dB ITU-R","15 dB","15 dB ITU-R"],"range":["#000000","#000000","#858585","#858585","#000000","#000000"]},
     "legend":{"title":null,"orient":"none","legendX":165,"legendY":521,"direction":"horizontal","columns":6,"symbolType":{"expr":"indexof(datum.value, 'ITU') >= 0 ? 'M-1,0L3,0M0.57,-0.43L1.43,0.43M0.57,0.43L1.43,-0.43' : 'M-1,0L3,0'"},"symbolSize":196,"symbolStrokeWidth":1.4,"labelFont":"Liberation Sans","labelFontSize":12,"labelColor":"#000","labelOffset":18,"columnPadding":24,"strokeColor":"#333","fillColor":"white","padding":3}},
    "strokeDash":{"field":"series","type":"nominal","scale":{"domain":["1 dB","1 dB ITU-R","7 dB","7 dB ITU-R","15 dB","15 dB ITU-R"],"range":[[1,0],[1,0],[1,0],[1,0],[6,4],[6,4]]},
     "legend":{"title":null,"orient":"none","legendX":165,"legendY":521,"direction":"horizontal","columns":6,"symbolType":{"expr":"indexof(datum.value, 'ITU') >= 0 ? 'M-1,0L3,0M0.57,-0.43L1.43,0.43M0.57,0.43L1.43,-0.43' : 'M-1,0L3,0'"},"symbolSize":196,"symbolStrokeWidth":1.4,"labelFont":"Liberation Sans","labelFontSize":12,"labelColor":"#000","labelOffset":18,"columnPadding":24,"strokeColor":"#333","fillColor":"white","padding":3}}
   }},
  {"transform":[{"filter":"datum.panel == 'b' && indexof(datum.series, 'ITU') >= 0"}],
   "mark":{"type":"point","shape":"M-1,-1L1,1M-1,1L1,-1","size":26,"strokeWidth":1,"filled":false,"opacity":1},
   "encoding":{"color":{"field":"series","type":"nominal","legend":null}}},
  {"transform":[{"filter":"datum.panel == 'b' && datum.series == '1 dB' && datum.x == 0"}],
   "mark":{"type":"rect","fillOpacity":0,"stroke":"#444","strokeWidth":1},
   "encoding":{"x":{"datum":-0.477,"type":"quantitative"},"x2":{"datum":-0.363},"y":{"datum":27.0,"type":"quantitative"},"y2":{"datum":7.9}}},
  {"transform":[{"filter":"datum.panel == 'b' && datum.series == '1 dB' && datum.x == 0"}],
   "mark":{"type":"text","text":"(b)","fontSize":16,"font":"Liberation Sans","color":"#000"},
   "encoding":{"x":{"datum":-0.42,"type":"quantitative"},"y":{"datum":14.6,"type":"quantitative"}}},
  {"transform":[{"filter":"datum.panel == 'b' && datum.series == '1 dB' && datum.x == 0"}],
   "mark":{"type":"rect","fillOpacity":0,"stroke":"#444","strokeWidth":1},
   "encoding":{"x":{"datum":0.198,"type":"quantitative"},"x2":{"datum":0.525},"y":{"datum":62.4,"type":"quantitative"},"y2":{"datum":17.6}}},
  {"transform":[{"filter":"datum.panel == 'b' && datum.series == '1 dB' && datum.x == 0"}],
   "mark":{"type":"text","text":"30GHz","fontSize":21,"font":"Liberation Sans","color":"#000"},
   "encoding":{"x":{"datum":0.361,"type":"quantitative"},"y":{"datum":33.2,"type":"quantitative"}}}
 ]}
]
}
